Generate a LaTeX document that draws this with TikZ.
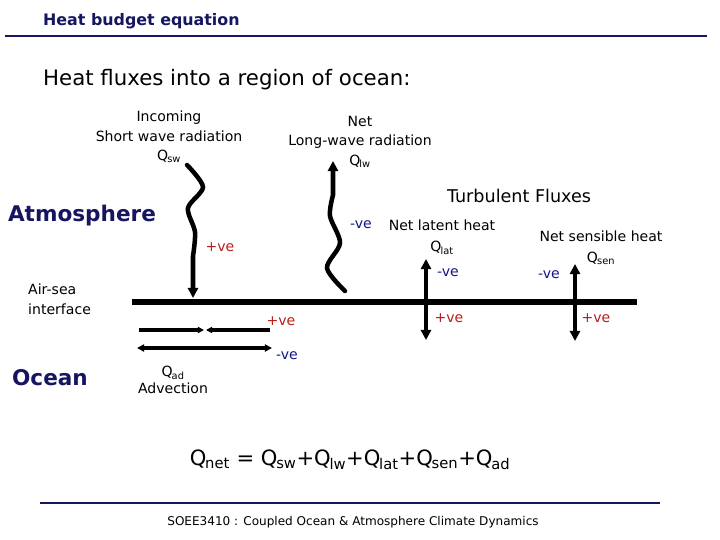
\documentclass[tikz,border=0pt]{standalone}
\usepackage{fontspec}
\setmainfont{DejaVu Sans}
\usetikzlibrary{arrows.meta,positioning}
\definecolor{hbnavy}{RGB}{22,22,96}
\definecolor{hbblue}{RGB}{20,20,135}
\definecolor{hbred}{RGB}{185,28,28}
\newcommand{\Qsub}[1]{Q\kern-0.06em\textsubscript{#1}}
\newcommand{\fs}[1]{\fontsize{#1}{#1}\selectfont}
\tikzset{
  lbl/.style={font=\fontsize{14}{19.5}\selectfont, align=center, inner sep=0pt},
  plusve/.style={font=\fs{14}, text=hbred, inner sep=0pt},
  minusve/.style={font=\fs{14}, text=hbblue, inner sep=0pt},
  region/.style={font=\fs{21.5}\bfseries, text=hbnavy, inner sep=0pt},
  wavy/.style={line width=4.5pt, line cap=round, -{Triangle[length=10pt,width=10pt]}},
  flux/.style={line width=3.5pt, {Triangle[length=10pt,width=10pt]}-{Triangle[length=10pt,width=10pt]}},
  advin/.style={line width=3pt, -{Triangle[length=6pt,width=6pt]}},
  advout/.style={line width=3pt, {Triangle[length=7pt,width=7pt]}-{Triangle[length=7pt,width=7pt]}},
  hrule/.style={hbnavy, line width=2pt},
}

\begin{document}
\begin{tikzpicture}[x=0.035cm, y=-0.035cm]
    \useasboundingbox (0,0) rectangle (720,540);
    % header
    \node[anchor=west, inner sep=0pt, font=\fs{15.8}\bfseries, text=hbnavy] (title) at (43,21) {Heat budget equation};
    \draw[hrule] (5,36) -- (707,36);
    \node[anchor=west, inner sep=0pt, font=\fs{21.2}] (head) at (43,80) {Heat fluxes into a region of ocean:};
    % interface
    \coordinate (ifL) at (132,302);
    \coordinate (ifR) at (637,302);
    \draw[line width=6pt] (ifL) -- (ifR);
    \node[region] (atmos) at (82,216) {Atmosphere};
    \node[region] (ocean) at (50,378) {Ocean};
    \node[lbl, anchor=west, align=left] (iface) at (28,299) {Air-sea\\interface};
    % short wave
    \node[lbl] (swlbl) at (169,137) {Incoming\\Short wave radiation\\\Qsub{sw}};
    \coordinate (swtop) at (187,165);
    \draw[wavy] plot[smooth] coordinates {(swtop) (203,187) (188,208) (195,232) (193,256)} -- (193,298);
    \node[plusve] (swpos) at (220,247) {+ve};
    % long wave
    \node[lbl] (lwlbl) at (360,142) {Net\\Long-wave radiation\\\Qsub{lw}};
    \coordinate (lwbot) at (345,291);
    \draw[wavy] plot[smooth] coordinates {(lwbot) (327,268) (340,243) (330,216) (333,195)} -- (333,161);
    \node[minusve] (lwneg) at (361,225) {-ve};
    % turbulent fluxes
    \node[font=\fs{17.5}, inner sep=0pt] (turb) at (519,196) {Turbulent Fluxes};
    \node[lbl, font=\fontsize{14}{21}\selectfont] (latlbl) at (442,237) {Net latent heat\\\Qsub{lat}};
    \node[lbl, font=\fontsize{14}{21}\selectfont] (senlbl) at (601,248) {Net sensible heat\\\Qsub{sen}};
    \coordinate (latT) at (426,259);
    \coordinate (latB) at (426,340);
    \coordinate (senT) at (575,264);
    \coordinate (senB) at (575,341);
    \draw[flux] (latT) -- (latB);
    \draw[flux] (senT) -- (senB);
    \node[minusve] (latneg) at (448,273) {-ve};
    \node[plusve] (latpos) at (449,318) {+ve};
    \node[minusve] (senneg) at (549,275) {-ve};
    \node[plusve] (senpos) at (596,318) {+ve};
    % advection
    \coordinate (advL) at (139,330);
    \coordinate (advR) at (270,330);
    \coordinate (advM) at (205,330);
    \draw[advin] (advL) -- ([xshift=-1]advM);
    \draw[advin] (advR) -- ([xshift=1]advM);
    \coordinate (adv2L) at (137,348);
    \coordinate (adv2R) at (272,348);
    \draw[advout] (adv2L) -- (adv2R);
    \node[plusve] (advpos) at (281,321) {+ve};
    \node[minusve] (advneg) at (287,356) {-ve};
    \node[lbl, font=\fontsize{14}{17}\selectfont] (advlbl) at (173,380) {\Qsub{ad}\\Advection};
    % budget
    \node[font=\fs{21}, inner sep=0pt] (budget) at (350,460) {\Qsub{net} = \Qsub{sw}+\Qsub{lw}+\Qsub{lat}+\Qsub{sen}+\Qsub{ad}};
    \draw[hrule] (40,503) -- (660,503);
    \node[font=\fs{12}, inner sep=0pt] (foot) at (353,522) {SOEE3410 : Coupled Ocean \& Atmosphere Climate Dynamics};
  \end{tikzpicture}
\end{document}
